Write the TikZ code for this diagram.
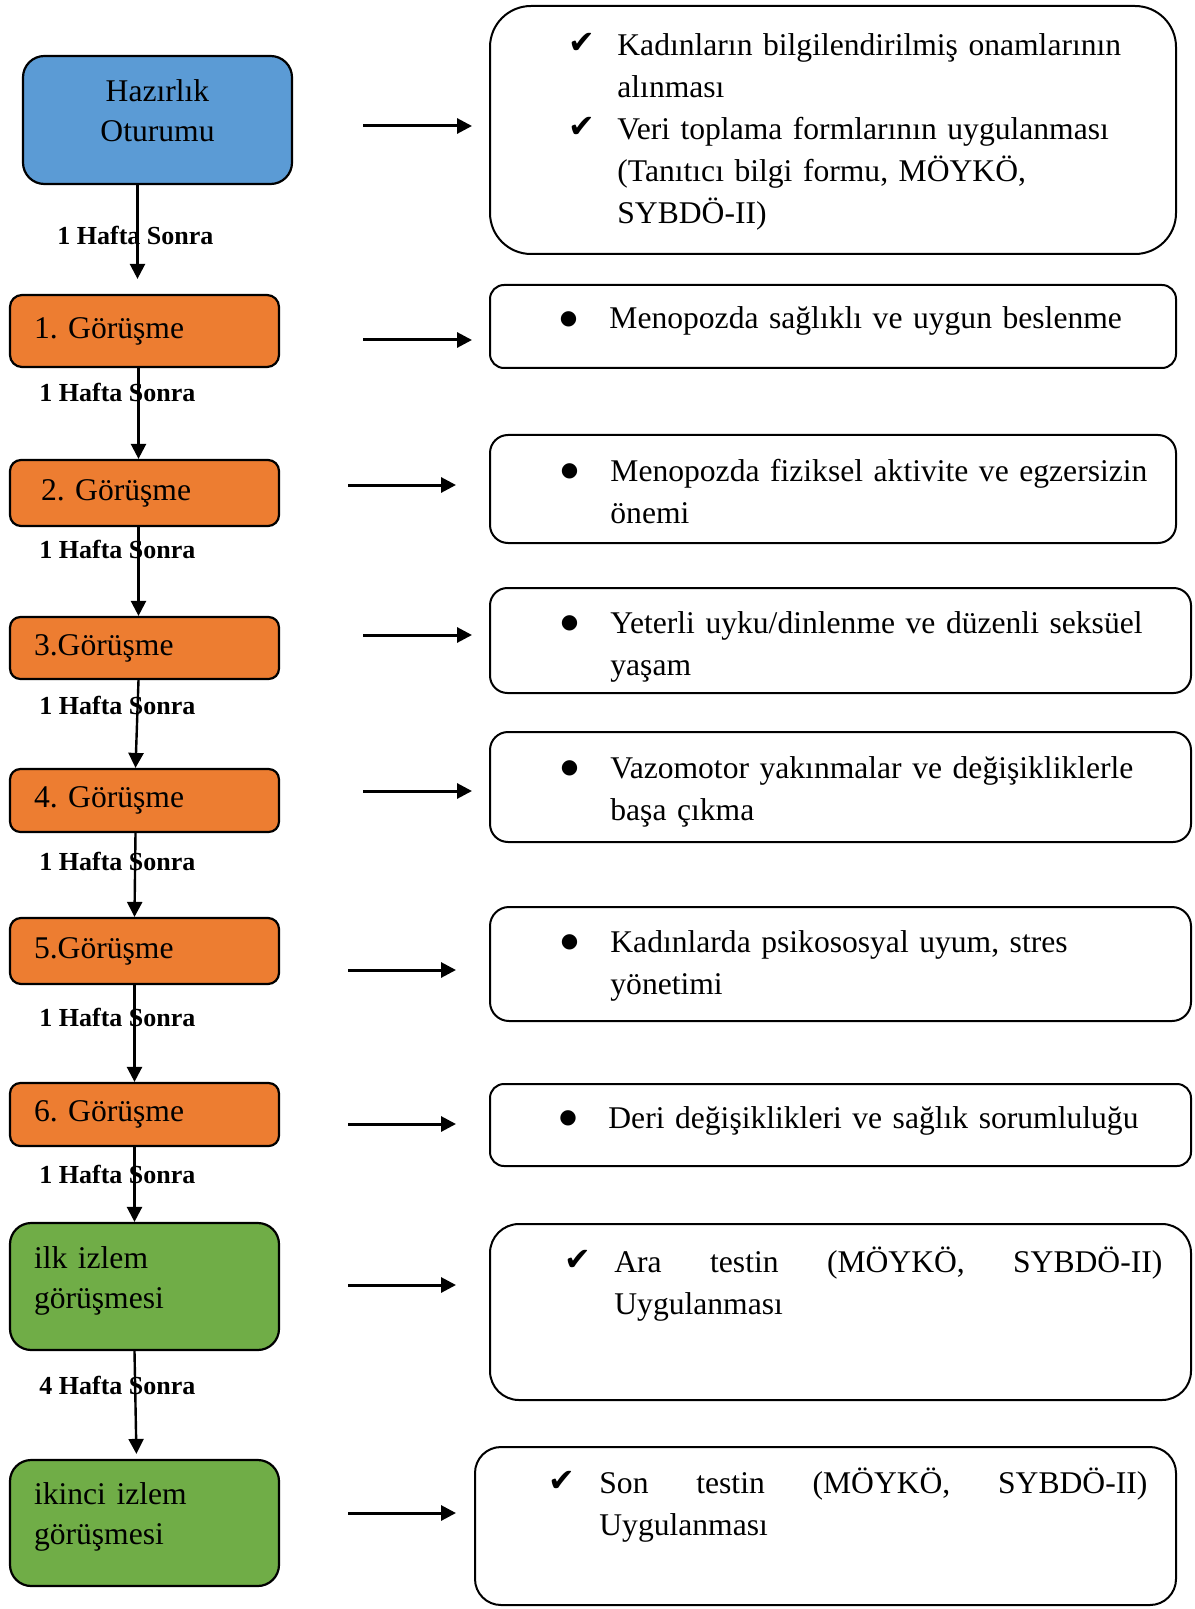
\documentclass[tikz,border=0pt]{standalone}
\usepackage{fontspec}
\setmainfont{Liberation Serif}
\newfontfamily\checkfont{DejaVu Sans}
\usepackage{tikz}
\usetikzlibrary{positioning,arrows.meta}
\frenchspacing

\definecolor{hazmavi}{HTML}{5B9BD5}
\definecolor{gorturuncu}{HTML}{ED7D31}
\definecolor{izyesil}{HTML}{70AD47}

\tikzset{
  solkutu/.style={draw, line width=1.1pt, minimum width=134.5pt, inner xsep=12pt, inner ysep=0pt, text width=110.5pt, align=left, font=\fontsize{15.8}{20}\selectfont},
  ikisatir/.style={text height=11pt, text depth=29.5pt},
  sagkutu/.style={draw, line width=1pt, inner sep=0pt, anchor=north west},
  metin/.style={anchor=base west, inner sep=0pt, text width=290pt, align=left, font=\fontsize{15.8}{21}\selectfont},
  imi/.style={anchor=center, inner sep=0pt, font=\fontsize{10}{10}\checkfont},
  tik/.style={anchor=base, inner sep=0pt, font=\fontsize{16}{16}\checkfont},
  sure/.style={anchor=base west, inner sep=0pt, font=\fontsize{13}{15}\selectfont\bfseries},
  okd/.style={-{Triangle[length=7.5pt,width=7.5pt]}, line width=1.2pt},
  okh/.style={-{Triangle[length=7.5pt,width=7.5pt]}, line width=1.5pt},
}

\begin{document}
\begin{tikzpicture}[x=0.5pt, y=-0.5pt]
	\useasboundingbox (0,0) rectangle (1194,1609);

	% blocchi a sinistra
	\node[solkutu, ikisatir, fill=hazmavi, rounded corners=10.7pt, minimum height=64pt, align=center] (haz) at (157.5,120) {Hazırlık\\Oturumu};
	\node[solkutu, fill=gorturuncu, rounded corners=6pt, minimum height=36pt] (g1) at (144.5,331) {1. Görüşme};
	\node[solkutu, fill=gorturuncu, rounded corners=5.5pt, minimum height=33pt] (g2) at (144.5,493) {\hspace*{3.5pt}2. Görüşme};
	\node[solkutu, fill=gorturuncu, rounded corners=5.2pt, minimum height=31pt] (g3) at (144.5,648) {3.Görüşme};
	\node[solkutu, fill=gorturuncu, rounded corners=5.2pt, minimum height=31.5pt] (g4) at (144.5,800.5) {4. Görüşme};
	\node[solkutu, fill=gorturuncu, rounded corners=5.5pt, minimum height=33pt] (g5) at (144.5,951) {5.Görüşme};
	\node[solkutu, fill=gorturuncu, rounded corners=5.2pt, minimum height=31.5pt] (g6) at (144.5,1114.5) {6. Görüşme};
	\node[solkutu, ikisatir, fill=izyesil, rounded corners=10.6pt, minimum height=63.5pt] (iz1) at (144.5,1286.5) {ilk izlem\\görüşmesi};
	\node[solkutu, ikisatir, fill=izyesil, rounded corners=10.6pt, minimum height=63pt] (iz2) at (144.5,1523) {ikinci izlem\\görüşmesi};

	% blocchi a destra
	\node[sagkutu, rounded corners=20.5pt, minimum width=343pt, minimum height=124pt] (r1) at (489,5) {};
	\node[sagkutu, rounded corners=7pt, minimum width=343pt, minimum height=41.5pt] (r2) at (489,284) {};
	\node[sagkutu, rounded corners=9pt, minimum width=343pt, minimum height=54pt] (r3) at (489,434) {};
	\node[sagkutu, rounded corners=8.7pt, minimum width=350.5pt, minimum height=52.5pt] (r4) at (489,587) {};
	\node[sagkutu, rounded corners=9pt, minimum width=350.5pt, minimum height=55pt] (r5) at (489,731) {};
	\node[sagkutu, rounded corners=9.5pt, minimum width=350.5pt, minimum height=57pt] (r6) at (489,906) {};
	\node[sagkutu, rounded corners=7pt, minimum width=350.5pt, minimum height=41pt] (r7) at (489,1083) {};
	\node[sagkutu, rounded corners=14.5pt, minimum width=350.5pt, minimum height=88pt] (r8) at (489,1223) {};
	\node[sagkutu, rounded corners=13pt, minimum width=350.5pt, minimum height=79pt] (r9) at (474,1446) {};

	% testi
	\node[tik] (c1a) at (582,54) {✔};
	\node[metin] (t1a) at (617,56) {Kadınların bilgilendirilmiş onamlarının\\alınması};
	\node[tik] (c1b) at (582,138) {✔};
	\node[metin] (t1b) at (617,140) {Veri toplama formlarının uygulanması\\(Tanıtıcı bilgi formu, MÖYKÖ,\\SYBDÖ-II)};
	\node[imi] (b2) at (568.5,319.5) {●};
	\node[metin] (t2) at (609,329) {Menopozda sağlıklı ve uygun beslenme};
	\node[imi] (b3) at (569.5,471.5) {●};
	\node[metin] (t3) at (610,481) {Menopozda fiziksel aktivite ve egzersizin\\önemi};
	\node[imi] (b4) at (569.5,623.5) {●};
	\node[metin] (t4) at (610,633) {Yeterli uyku/dinlenme ve düzenli seksüel\\yaşam};
	\node[imi] (b5) at (569.5,768.5) {●};
	\node[metin] (t5) at (610,778) {Vazomotor yakınmalar ve değişikliklerle\\başa çıkma};
	\node[imi] (b6) at (569.5,942.5) {●};
	\node[metin] (t6) at (610,952) {Kadınlarda psikososyal uyum, stres\\yönetimi};
	\node[imi] (b7) at (568,1118.5) {●};
	\node[metin] (t7) at (608,1128) {Deri değişiklikleri ve sağlık sorumluluğu};
	\node[tik] (c8) at (578,1270) {✔};
	\node[metin] (t8) at (614,1272) {\hbox to 274pt{Ara\hfill testin\hfill (MÖYKÖ,\hfill SYBDÖ-II)}\\Uygulanması};
	\node[tik] (c9) at (562,1491) {✔};
	\node[metin] (t9) at (599,1493) {\hbox to 274pt{Son\hfill testin\hfill (MÖYKÖ,\hfill SYBDÖ-II)}\\Uygulanması};

	% etichette
	\node[sure] (l1) at (57,245) {1 Hafta Sonra};
	\node[sure] (l2) at (39,401) {1 Hafta Sonra};
	\node[sure] (l3) at (39,558) {1 Hafta Sonra};
	\node[sure] (l4) at (39,714) {1 Hafta Sonra};
	\node[sure] (l5) at (39,870) {1 Hafta Sonra};
	\node[sure] (l6) at (39,1026) {1 Hafta Sonra};
	\node[sure] (l7) at (39,1183) {1 Hafta Sonra};
	\node[sure] (l8) at (39,1394) {4 Hafta Sonra};

	% frecce verticali
	\draw[okd, shorten >=7.5pt] ([xshift=-10pt]haz.south) -- ([xshift=-3.5pt]g1.north);
	\draw[okd] ([xshift=-3pt]g1.south) -- ([xshift=-3pt]g2.north);
	\draw[okd] ([xshift=-3pt]g2.south) -- ([xshift=-3pt]g3.north);
	\draw[okd] ([xshift=-3pt]g3.south) -- ([xshift=-4.5pt]g4.north);
	\draw[okd] ([xshift=-4.5pt]g4.south) -- ([xshift=-5pt]g5.north);
	\draw[okd] ([xshift=-5pt]g5.south) -- ([xshift=-5pt]g6.north);
	\draw[okd] ([xshift=-5pt]g6.south) -- ([xshift=-5pt]iz1.north);
	\draw[okd, shorten >=2.5pt] ([xshift=-5pt]iz1.south) -- ([xshift=-4pt]iz2.north);

	% frecce orizzontali
	\foreach \n/\xa/\xb/\y in {1/363/472/126, 2/363/472/340, 3/348/456/485, 4/363/472/635, 5/363/472/791, 6/348/456/970, 7/348/456/1124, 8/348/456/1285, 9/348/456/1513}{
		\coordinate (s\n) at (\xa,\y);
		\coordinate (e\n) at (\xb,\y);
		\draw[okh] (s\n) -- (e\n);
	}

\end{tikzpicture}
\end{document}
